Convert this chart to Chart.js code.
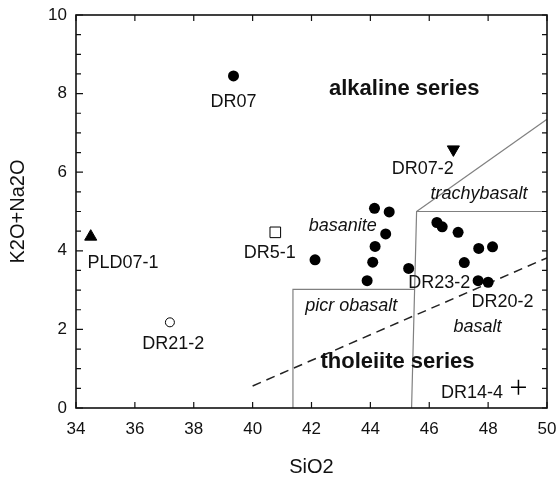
<!DOCTYPE html>
<html>
<head>
<meta charset="utf-8">
<script src="https://cdn.jsdelivr.net/npm/chart.js@4"></script>
<style>
  html, body { margin: 0; padding: 0; background: #fff; }
  #wrap { width: 556px; height: 478px; }
</style>
</head>
<body>
<div id="wrap"><canvas id="tasChart" width="556" height="478"></canvas></div>
<script>
// basalt samples (filled circles)
const basaltSiO2 = [42.12, 43.89, 44.08, 44.16, 44.14, 44.64, 44.52, 45.3, 46.26, 46.44, 46.98, 47.19, 47.66, 47.68, 48.0, 48.15];
const basaltAlk = [3.77, 3.24, 3.71, 4.11, 5.08, 4.99, 4.43, 3.55, 4.72, 4.61, 4.47, 3.7, 3.24, 4.06, 3.2, 4.1];

// single samples
const sampleNames = ["DR07", "PLD07-1", "DR5-1", "DR21-2", "DR07-2", "DR14-4"];
const sampleSiO2 = [39.35, 34.5, 40.77, 37.19, 46.82, 49.03];
const sampleAlk = [8.45, 4.36, 4.47, 2.18, 6.58, 0.53];

// field boundaries
const picroX = [41.37, 41.37, 45.5];
const picroY = [0, 3.02, 3.02];
const basaltEdgeX = [45.4, 45.57, 50];
const basaltEdgeY = [0, 5.0, 5.0];
const trachyX = [45.57, 50];
const trachyY = [5.0, 7.35];
const seriesX = [40, 50];
const seriesY = [0.56, 3.82];

const xTicks = [34, 36, 38, 40, 42, 44, 46, 48, 50];
const yTicks = [0, 2, 4, 6, 8, 10];

const toPts = (xs, ys) => xs.map((x, i) => ({ x: x, y: ys[i] }));

// label placements (data units)
const notes = [
  { text: "alkaline series", x: 45.15, y: 8.13, font: "bold 22px 'Liberation Sans', Arial, sans-serif" },
  { text: "tholeiite series", x: 44.92, y: 1.18, font: "bold 22px 'Liberation Sans', Arial, sans-serif" },
  { text: "trachybasalt", x: 47.69, y: 5.44, font: "italic 18px 'Liberation Sans', Arial, sans-serif" },
  { text: "basanite", x: 43.06, y: 4.63, font: "italic 18px 'Liberation Sans', Arial, sans-serif" },
  { text: "picr obasalt", x: 43.35, y: 2.6, font: "italic 18px 'Liberation Sans', Arial, sans-serif" },
  { text: "basalt", x: 47.64, y: 2.05, font: "italic 18px 'Liberation Sans', Arial, sans-serif" },
  { text: "DR07", x: 39.35, y: 7.78 },
  { text: "PLD07-1", x: 35.6, y: 3.68 },
  { text: "DR5-1", x: 40.58, y: 3.95 },
  { text: "DR21-2", x: 37.3, y: 1.62 },
  { text: "DR07-2", x: 45.78, y: 6.08 },
  { text: "DR23-2", x: 46.34, y: 3.17 },
  { text: "DR20-2", x: 48.49, y: 2.7 },
  { text: "DR14-4", x: 47.45, y: 0.39 },
];

// frame, inward ticks and text labels
const framePlugin = {
  id: "frame",
  afterDraw(chart) {
    const { ctx, chartArea: a, scales } = chart;
    const xs = scales.x, ys = scales.y;
    ctx.save();
    ctx.setLineDash([]);
    ctx.globalAlpha = 1;
    ctx.strokeStyle = "#111";
    ctx.lineWidth = 1.2;
    ctx.beginPath();
    xTicks.forEach((v) => {
      const px = xs.getPixelForValue(v);
      ctx.moveTo(px, a.bottom); ctx.lineTo(px, a.bottom - 6);
      ctx.moveTo(px, a.top); ctx.lineTo(px, a.top + 6);
    });
    for (let v = 0; v <= 10; v += 0.5) {
      const py = ys.getPixelForValue(v);
      const len = v % 2 === 0 ? 7 : 5;
      ctx.moveTo(a.left, py); ctx.lineTo(a.left + len, py);
      ctx.moveTo(a.right, py); ctx.lineTo(a.right - 5, py);
    }
    ctx.stroke();
    ctx.lineWidth = 1.6;
    ctx.strokeRect(a.left, a.top, a.right - a.left, a.bottom - a.top);

    ctx.fillStyle = "#111";
    ctx.textAlign = "center";
    ctx.textBaseline = "middle";
    notes.forEach((n) => {
      ctx.font = n.font || "18px 'Liberation Sans', Arial, sans-serif";
      ctx.fillText(n.text, xs.getPixelForValue(n.x), ys.getPixelForValue(n.y));
    });
    ctx.restore();
  },
};

const lineStyle = { showLine: true, pointRadius: 0, borderColor: "#808080", borderWidth: 1.2, fill: false };

const single = (i, style) => Object.assign({
  label: sampleNames[i],
  data: [{ x: sampleSiO2[i], y: sampleAlk[i] }],
  borderColor: "#000",
  backgroundColor: "#000",
  borderWidth: 1,
}, style);

new Chart(document.getElementById("tasChart"), {
  type: "scatter",
  data: {
    datasets: [
      { label: "basalts", data: toPts(basaltSiO2, basaltAlk), pointStyle: "circle", pointRadius: 5.5, backgroundColor: "#000", borderColor: "#000", borderWidth: 0, order: 0 },
      single(0, { pointStyle: "circle", pointRadius: 5.5, borderWidth: 0, order: 0 }),
      single(1, { pointStyle: "triangle", pointRadius: 7, order: 0 }),
      single(2, { pointStyle: "rect", pointRadius: 7.5, backgroundColor: "#fff", order: 0 }),
      single(3, { pointStyle: "circle", pointRadius: 4.5, backgroundColor: "#fff", order: 0 }),
      single(4, { pointStyle: "triangle", rotation: 180, pointRadius: 7, order: 0 }),
      single(5, { pointStyle: "cross", pointRadius: 7.5, borderWidth: 1.5, order: 0 }),
      Object.assign({ label: "picrobasalt", data: toPts(picroX, picroY), order: 5 }, lineStyle),
      Object.assign({ label: "basalt field", data: toPts(basaltEdgeX, basaltEdgeY), order: 5 }, lineStyle),
      Object.assign({ label: "trachybasalt", data: toPts(trachyX, trachyY), order: 5 }, lineStyle),
      Object.assign({ label: "alkaline/tholeiite", data: toPts(seriesX, seriesY), order: 5 }, lineStyle,
        { borderColor: "#222", borderWidth: 1.5, borderDash: [9, 6] }),
    ],
  },
  options: {
    responsive: false,
    animation: false,
    layout: { padding: { top: 15, right: 9, bottom: 0, left: 0 } },
    plugins: { legend: { display: false }, tooltip: { enabled: false } },
    scales: {
      x: {
        type: "linear",
        min: 34,
        max: 50,
        afterFit: (s) => { s.height = 70; s.paddingLeft = 0; s.paddingRight = 0; },
        afterBuildTicks: (s) => { s.ticks = xTicks.map((v) => ({ value: v })); },
        grid: { display: false, drawTicks: false },
        border: { display: false },
        ticks: { color: "#111", padding: 11, maxRotation: 0, font: { family: "'Liberation Sans', Arial, sans-serif", size: 17 } },
        title: { display: true, text: "SiO2", color: "#111", padding: { top: 0, bottom: 1 }, font: { family: "'Liberation Sans', Arial, sans-serif", size: 20, lineHeight: 1 } },
      },
      y: {
        type: "linear",
        min: 0,
        max: 10,
        afterFit: (s) => { s.width = 76; s.paddingTop = 0; s.paddingBottom = 0; },
        afterBuildTicks: (s) => { s.ticks = yTicks.map((v) => ({ value: v })); },
        grid: { display: false, drawTicks: false },
        border: { display: false },
        ticks: { color: "#111", padding: 9, font: { family: "'Liberation Sans', Arial, sans-serif", size: 17 } },
        title: { display: true, text: "K2O+Na2O", color: "#111", padding: { top: 8, bottom: 0 }, font: { family: "'Liberation Sans', Arial, sans-serif", size: 20, lineHeight: 1 } },
      },
    },
  },
  plugins: [framePlugin],
});
</script>
</body>
</html>
